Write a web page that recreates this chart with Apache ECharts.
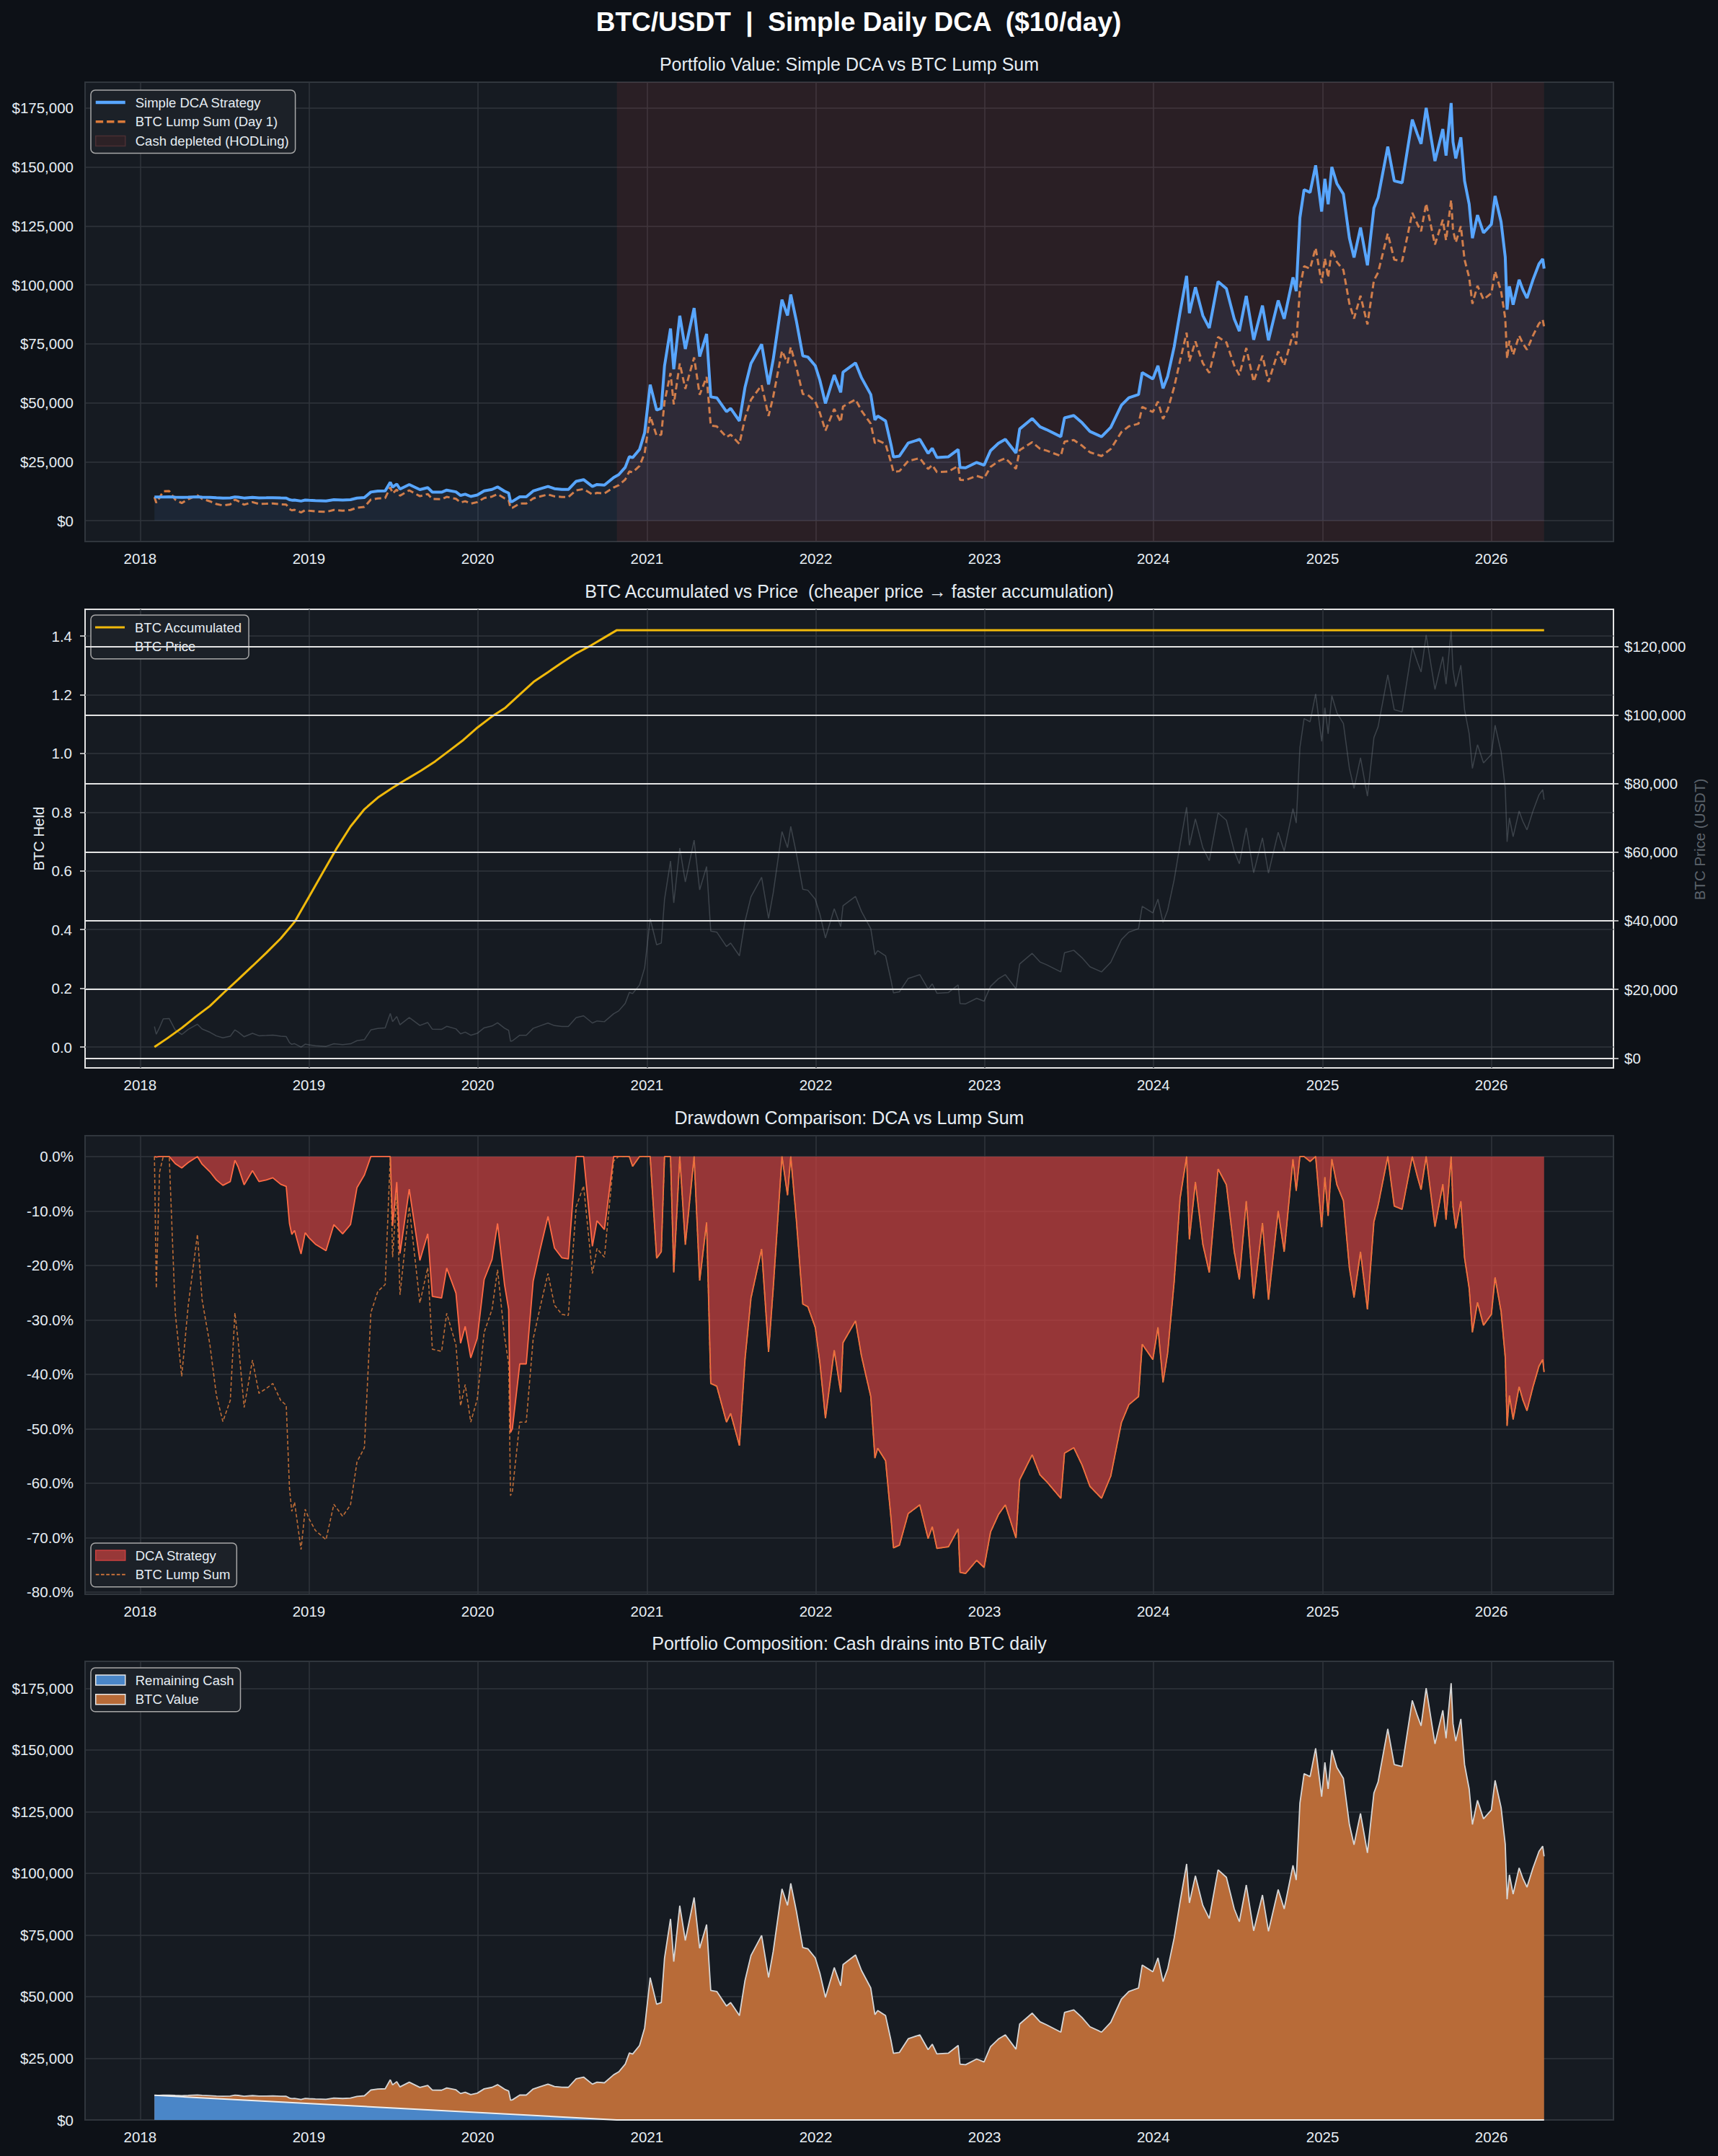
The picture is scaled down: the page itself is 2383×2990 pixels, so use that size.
<!DOCTYPE html>
<html>
<head>
<meta charset="utf-8">
<script src="https://cdn.jsdelivr.net/npm/echarts@6/dist/echarts.min.js"></script>
<style>
html,body{margin:0;padding:0;background:#0d1117;}
#chart{width:2383px;height:2990px;}
</style>
</head>
<body>
<div id="chart"></div>
<script>
// ---------------- DATA ----------------
const dates = [
'2018-02-01','2018-02-05','2018-02-12','2018-02-20','2018-03-05','2018-03-18','2018-04-01','2018-04-15','2018-05-05','2018-05-15',
'2018-06-01','2018-06-15','2018-06-29','2018-07-15','2018-07-25','2018-08-01','2018-08-14','2018-09-01','2018-09-15','2018-10-01',
'2018-10-15','2018-11-01','2018-11-13','2018-11-20','2018-11-25','2018-12-01','2018-12-15','2018-12-24','2019-01-01','2019-01-15',
'2019-02-07','2019-02-24','2019-03-15','2019-04-01','2019-04-15','2019-05-01','2019-05-15','2019-05-30','2019-06-15','2019-06-26',
'2019-07-01','2019-07-10','2019-07-17','2019-08-06','2019-08-29','2019-09-15','2019-09-25','2019-10-15','2019-10-26','2019-11-15',
'2019-11-25','2019-12-05','2019-12-17','2019-12-31','2020-01-15','2020-02-01','2020-02-13','2020-02-28','2020-03-08','2020-03-12',
'2020-03-16','2020-04-01','2020-04-15','2020-04-30','2020-05-15','2020-06-01','2020-06-15','2020-07-01','2020-07-15','2020-08-01',
'2020-08-17','2020-09-05','2020-09-15','2020-10-01','2020-10-21','2020-11-01','2020-11-15','2020-11-24','2020-12-01','2020-12-16',
'2020-12-27','2021-01-08','2021-01-22','2021-02-01','2021-02-08','2021-02-21','2021-02-28','2021-03-13','2021-03-25','2021-04-13',
'2021-04-25','2021-05-10','2021-05-19','2021-06-01','2021-06-22','2021-07-01','2021-07-20','2021-08-01','2021-08-14','2021-09-06',
'2021-09-21','2021-10-01','2021-10-20','2021-11-01','2021-11-08','2021-11-20','2021-12-04','2021-12-15','2021-12-31','2022-01-10',
'2022-01-22','2022-02-10','2022-02-24','2022-03-01','2022-03-28','2022-04-10','2022-04-30','2022-05-09','2022-05-15','2022-06-01',
'2022-06-13','2022-06-18','2022-07-01','2022-07-20','2022-08-14','2022-09-01','2022-09-10','2022-09-20','2022-10-15','2022-11-05',
'2022-11-09','2022-11-21','2022-12-15','2022-12-31','2023-01-14','2023-01-31','2023-02-15','2023-03-10','2023-03-18','2023-04-14',
'2023-05-01','2023-05-15','2023-06-15','2023-06-23','2023-07-13','2023-07-31','2023-08-17','2023-09-11','2023-10-01','2023-10-24',
'2023-11-09','2023-11-30','2023-12-08','2023-12-31','2024-01-11','2024-01-22','2024-02-01','2024-02-15','2024-02-28','2024-03-13',
'2024-03-19','2024-04-01','2024-04-17','2024-05-01','2024-05-20','2024-06-07','2024-06-24','2024-07-05','2024-07-20','2024-08-05',
'2024-08-24','2024-09-06','2024-09-27','2024-10-10','2024-10-29','2024-11-05','2024-11-13','2024-11-22','2024-12-05','2024-12-17',
'2024-12-30','2025-01-06','2025-01-13','2025-01-21','2025-02-01','2025-02-15','2025-02-28','2025-03-10','2025-03-24','2025-04-08',
'2025-04-22','2025-05-01','2025-05-22','2025-06-05','2025-06-22','2025-07-14','2025-07-25','2025-08-02','2025-08-13','2025-09-01',
'2025-09-18','2025-09-25','2025-10-06','2025-10-10','2025-10-16','2025-10-27','2025-11-04','2025-11-14','2025-11-21','2025-12-02',
'2025-12-15','2026-01-01','2026-01-09','2026-01-22','2026-01-31','2026-02-04','2026-02-09','2026-02-17','2026-03-02','2026-03-10',
'2026-03-19','2026-04-01','2026-04-14','2026-04-22','2026-04-25'
];

const btcPrice = [
9170,6950,8900,11400,11500,8200,6850,8350,9850,8480,
7520,6450,5900,6350,8200,7600,6200,7200,6500,6600,
6700,6350,6250,4500,4000,4200,3200,4050,3850,3600,
3400,4150,3900,4140,5050,5350,8200,8650,8800,13000,
10600,12100,9700,11800,9500,10350,8400,8350,9250,8500,
7050,7550,6650,7200,8800,9350,10300,8700,8050,4900,
5000,6650,6650,8650,9400,10200,9450,9230,9200,11800,
12300,10200,10800,10600,12900,13750,15950,19150,18800,21300,
26250,40600,33000,33500,46200,57400,45200,61200,51300,63500,
49000,55800,37000,36700,32500,33500,29800,39800,47000,52700,
40700,48100,66000,61300,67500,59700,49200,48900,46300,41900,
35000,43500,38300,44400,47100,42700,37700,30100,31300,29800,
22500,19000,19300,23200,24300,20100,21600,18900,19100,21300,
15900,15800,17400,16550,20900,23100,24300,20200,27400,30500,
28000,27200,25100,30700,31400,29200,26600,25100,27900,34500,
36700,37700,44200,42300,46300,39500,43100,51900,62400,73100,
62000,69700,61300,57500,71400,69300,60300,56600,67100,54000,
64200,53900,65800,60300,72700,68500,90500,98900,98000,106100,
92300,102100,94500,105600,100600,97500,84400,78600,87500,76300,
93400,96500,111700,101500,100900,119800,115400,112500,123300,107400,
117000,109000,124700,113200,108200,114500,101500,94500,84400,91300,
86000,88500,97000,89200,78700,63000,70000,64500,72000,69000,
66500,72000,76700,78200,75300
];

const dcaValue = [
10000,9995,10001,10038,10071,9944,9855,9963,10134,9988,
9853,9698,9594,9668,10064,9938,9604,9867,9671,9699,
9738,9620,9581,8889,8686,8759,8315,8720,8627,8500,
8378,8863,8695,8869,9554,9794,12134,12523,12640,16301,
14210,15541,13401,15322,13181,13985,12104,12057,12958,12210,
10705,11223,10262,10854,12612,13228,14301,12470,11718,8038,
8150,10087,10086,12562,13513,14515,13559,13272,13231,16704,
17387,14514,15334,15057,18311,19500,22600,27200,26700,30200,
37300,57700,46900,47600,65600,81500,64200,86900,72800,90200,
69600,79200,52500,52100,46200,47600,42300,56500,66700,74800,
57800,68300,93700,87000,95900,84800,69900,69400,65700,59500,
49700,61800,54400,63000,66900,60600,53500,42700,44400,42300,
32000,27000,27400,32900,34500,28500,30700,26800,27100,30200,
22600,22400,24700,23500,29700,32800,34500,28700,38900,43300,
39800,38600,35600,43600,44600,41500,37800,35600,39600,49000,
52100,53500,62800,60100,65700,56100,61200,73700,88600,103800,
88000,99000,87000,81700,101400,98400,85600,80400,95300,76700,
91200,76500,93400,85600,103200,97300,128500,140400,139200,150700,
131100,145000,134200,150000,142900,138500,119800,111600,124300,108300,
132600,137000,158600,144100,143300,170100,163900,159800,175100,152500,
166100,154800,177100,160700,153600,162600,144100,134200,119800,129600,
122100,125700,137700,126700,111800,89500,99400,91600,102200,98000,
94400,102200,108900,111000,106900
];

const lumpValue = [
10000,7579,9705,12432,12541,8942,7470,9106,10741,9247,
8201,7034,6434,6925,8942,8288,6761,7852,7088,7197,
7306,6925,6816,4907,4362,4580,3490,4417,4198,3926,
3708,4526,4253,4515,5507,5834,8942,9433,9596,14177,
11559,13195,10578,12868,10360,11287,9160,9106,10087,9269,
7688,8233,7252,7852,9596,10196,11232,9487,8779,5343,
5453,7252,7252,9433,10251,11123,10305,10065,10033,12868,
13413,11123,11777,11559,14067,15000,17400,20900,20500,23200,
28600,44300,36000,36500,50400,62600,49300,66700,55900,69200,
53400,60900,40300,40000,35400,36500,32500,43400,51300,57500,
44400,52500,72000,66800,73600,65100,53700,53300,50500,45700,
38200,47400,41800,48400,51400,46600,41100,32800,34100,32500,
24500,20700,21000,25300,26500,21900,23600,20600,20800,23200,
17300,17200,19000,18000,22800,25200,26500,22000,29900,33300,
30500,29700,27400,33500,34200,31800,29000,27400,30400,37600,
40000,41100,48200,46100,50500,43100,47000,56600,68000,79700,
67600,76000,66800,62700,77900,75600,65800,61700,73200,58900,
70000,58800,71800,65800,79300,74700,98700,107900,106900,115700,
100700,111300,103100,115200,109700,106300,92000,85700,95400,83200,
101900,105200,121800,110700,110000,130600,125800,122700,134500,117100,
127600,118900,136000,123400,118000,124900,110700,103100,92000,99600,
93800,96500,105800,97300,85800,68700,76300,70300,78500,75200,
72500,78500,83600,85300,82100
];

const dcaDrawdown = [
0,-0.1,0,0,0,-1.3,-2.1,-1.1,0,-1.4,
-2.8,-4.3,-5.3,-4.6,-0.7,-1.9,-5.2,-2.6,-4.6,-4.3,
-3.9,-5.1,-5.5,-12.3,-14.3,-13.6,-17.9,-14.0,-14.9,-16.1,
-17.3,-12.5,-14.2,-12.5,-5.7,-3.4,0,0,0,0,
-12.8,-4.7,-17.8,-6.0,-19.1,-14.2,-25.7,-26.0,-20.5,-25.1,
-34.3,-31.2,-37.0,-33.4,-22.6,-18.9,-12.3,-23.5,-28.1,-50.7,
-50.0,-38.1,-38.1,-22.9,-17.1,-11.0,-16.8,-18.6,-18.8,0,
0,-16.5,-11.8,-13.4,0,0,0,0,-1.8,0,
0,0,-18.7,-17.5,0,0,-21.3,0,-16.2,0,
-22.8,-12.1,-41.7,-42.2,-48.8,-47.2,-53.1,-37.3,-26.0,-17.0,
-35.9,-24.3,0,-7.1,0,-11.6,-27.1,-27.6,-31.4,-37.9,
-48.1,-35.6,-43.3,-34.2,-30.2,-36.7,-44.1,-55.4,-53.6,-55.9,
-66.7,-71.9,-71.4,-65.6,-64.0,-70.2,-68.0,-72.0,-71.7,-68.4,
-76.4,-76.6,-74.2,-75.5,-69.0,-65.8,-64.0,-70.1,-59.4,-54.8,
-58.5,-59.7,-62.8,-54.5,-53.5,-56.7,-60.6,-62.8,-58.7,-48.9,
-45.6,-44.1,-34.5,-37.3,-31.4,-41.5,-36.1,-23.1,-7.6,0,
-15.2,-4.7,-16.1,-21.3,-2.3,-5.2,-17.5,-22.6,-8.2,-26.1,
-12.2,-26.3,-10.0,-17.5,-0.5,-6.3,0,0,-0.9,0,
-13.0,-3.8,-10.9,-0.5,-5.2,-8.1,-20.5,-25.9,-17.5,-28.1,
-12.0,-9.0,0,-9.1,-9.7,0,-3.7,-6.1,0,-12.9,
-5.1,-11.6,0,-9.2,-13.2,-8.2,-18.6,-24.2,-32.3,-26.8,
-31.0,-29.0,-22.2,-28.5,-36.9,-49.5,-43.9,-48.3,-42.3,-44.7,
-46.7,-42.3,-38.5,-37.3,-39.6
];

const lumpDrawdown = [
0,-24.2,-2.9,0,0,-28.7,-40.4,-27.4,-14.3,-26.3,
-34.6,-43.9,-48.7,-44.8,-28.7,-33.9,-46.1,-37.4,-43.5,-42.6,
-41.7,-44.8,-45.7,-60.9,-65.2,-63.5,-72.2,-64.8,-66.5,-68.7,
-70.4,-63.9,-66.1,-64.0,-56.1,-53.5,-28.7,-24.8,-23.5,0,
-18.5,-6.9,-25.4,-9.2,-26.9,-20.4,-35.4,-35.8,-28.8,-34.6,
-45.8,-41.9,-48.8,-44.6,-32.3,-28.1,-20.8,-33.1,-38.1,-62.3,
-61.5,-48.8,-48.8,-33.5,-27.7,-21.5,-27.3,-29.0,-29.2,-9.2,
-5.4,-21.5,-16.9,-18.5,-0.8,0,0,0,-1.8,0,
0,0,-18.7,-17.5,0,0,-21.3,0,-16.2,0,
-22.8,-12.1,-41.7,-42.2,-48.8,-47.2,-53.1,-37.3,-26.0,-17.0,
-35.9,-24.3,0,-7.1,0,-11.6,-27.1,-27.6,-31.4,-37.9,
-48.1,-35.6,-43.3,-34.2,-30.2,-36.7,-44.1,-55.4,-53.6,-55.9,
-66.7,-71.9,-71.4,-65.6,-64.0,-70.2,-68.0,-72.0,-71.7,-68.4,
-76.4,-76.6,-74.2,-75.5,-69.0,-65.8,-64.0,-70.1,-59.4,-54.8,
-58.5,-59.7,-62.8,-54.5,-53.5,-56.7,-60.6,-62.8,-58.7,-48.9,
-45.6,-44.1,-34.5,-37.3,-31.4,-41.5,-36.1,-23.1,-7.6,0,
-15.2,-4.7,-16.1,-21.3,-2.3,-5.2,-17.5,-22.6,-8.2,-26.1,
-12.2,-26.3,-10.0,-17.5,-0.5,-6.3,0,0,-0.9,0,
-13.0,-3.8,-10.9,-0.5,-5.2,-8.1,-20.5,-25.9,-17.5,-28.1,
-12.0,-9.0,0,-9.1,-9.7,0,-3.7,-6.1,0,-12.9,
-5.1,-11.6,0,-9.2,-13.2,-8.2,-18.6,-24.2,-32.3,-26.8,
-31.0,-29.0,-22.2,-28.5,-36.9,-49.5,-43.9,-48.3,-42.3,-44.7,
-46.7,-42.3,-38.5,-37.3,-39.6
];

const heldDates = [
'2018-02-01','2018-03-01','2018-04-01','2018-05-01','2018-06-01','2018-07-01','2018-08-01','2018-09-01','2018-10-01','2018-11-01',
'2018-12-01','2019-01-01','2019-02-01','2019-03-01','2019-04-01','2019-05-01','2019-06-01','2019-07-01','2019-08-01','2019-09-01',
'2019-10-01','2019-11-01','2019-12-01','2020-01-01','2020-02-01','2020-03-01','2020-04-01','2020-05-01','2020-06-01','2020-07-01',
'2020-08-01','2020-09-01','2020-10-01','2020-10-28','2026-04-25'
];
const btcHeld = [
0,0.030,0.065,0.103,0.140,0.185,0.230,0.276,0.321,0.370,
0.426,0.511,0.597,0.674,0.751,0.810,0.852,0.883,0.913,0.942,
0.973,1.010,1.046,1.089,1.126,1.156,1.201,1.244,1.277,1.309,
1.341,1.367,1.395,1.420,1.420
];

const cashDates = ['2018-02-01','2020-10-28','2026-04-25'];
const cashRemaining = [10000, 0, 0];

const hodlStart = '2020-10-28';
const hodlEnd = '2026-04-25';

const xYears = [2018,2019,2020,2021,2022,2023,2024,2025,2026];
const usdTicks = [0,25000,50000,75000,100000,125000,150000,175000];
const heldTicks = [0,0.2,0.4,0.6,0.8,1.0,1.2,1.4];
const priceTicks = [0,20000,40000,60000,80000,100000,120000];
const ddTicks = [0,-10,-20,-30,-40,-50,-60,-70,-80];

// ---------------- STYLE ----------------
const FONT = "'Liberation Sans', Arial, Helvetica, sans-serif";
const TXT = '#e6edf3';
const GRIDC = '#30363d';
const BLUE = '#58a6ff';
const ORANGE = '#db7a3a';
const DDFILL = 'rgba(211,68,65,0.68)';
const LEFT = 118, WIDTH = 2120;
const GR = [{top:114,h:637},{top:845,h:636},{top:1575,h:636},{top:2304,h:636}];
const X_MIN = Date.UTC(2017,8,4), X_MAX = Date.UTC(2026,8,22);

// legend icon shapes
const ICON_SOLID = 'path://M0,0H41V4.5H0Z';
const ICON_SOLID_THIN = 'path://M0,0H41V3H0Z';
const ICON_DASH = 'path://M0,0h9.3v3h-9.3z M13.7,0h9.3v3h-9.3z M27.4,0h9.3v3h-9.3z';
const ICON_DASH_FINE = 'path://M0,0h4.5v1.6h-4.5z M7,0h4.5v1.6h-4.5z M14,0h4.5v1.6h-4.5z M21,0h4.5v1.6h-4.5z M28,0h4.5v1.6h-4.5z M35,0h4.5v1.6h-4.5z';

const pairs = (ds, vs) => ds.map((d,i) => [Date.parse(d), vs[i]]);
const yearVals = xYears.map(y => Date.UTC(y,0,1));
const usd = v => '$' + v.toLocaleString('en-US');

function xAxis(i) {
  return {
    type:'value', gridIndex:i, min:X_MIN, max:X_MAX,
    axisLine:{show:false},
    axisTick:{show:false, customValues:yearVals},
    axisLabel:{customValues:yearVals, formatter:v => String(new Date(v).getUTCFullYear()),
      color:TXT, fontSize:20.5, fontFamily:FONT, margin:13},
    splitLine:{show:true, lineStyle:{color:GRIDC, width:1.5}}
  };
}
function yAxis(i, o) {
  return Object.assign({
    type:'value', gridIndex:i,
    axisLine:{show:false},
    axisTick:{show:false, customValues:o.ticks},
    axisLabel:{customValues:o.ticks, formatter:o.fmt, color:TXT, fontSize:20.5, fontFamily:FONT, margin:16},
    splitLine:{show:true, lineStyle:{color:GRIDC, width:1.5}}
  }, {min:o.min, max:o.max});
}

const legendBase = {
  orient:'vertical', itemWidth:41, itemHeight:14, itemGap:6.7,
  padding:[7,9,7,6], backgroundColor:'#1c2128', borderColor:'#a8a8a8', borderWidth:1.5, borderRadius:6,
  textStyle:{color:TXT, fontSize:18.5, fontFamily:FONT, lineHeight:20, padding:[0,0,0,9]},
  selectedMode:false
};

const chart = echarts.init(document.getElementById('chart'), null, {renderer:'svg'});

const ax1 = yAxis(1, {ticks:heldTicks, fmt:v => v.toFixed(1), min:-0.071, max:1.491});
ax1.position = 'left';
ax1.axisTick = {show:true, customValues:heldTicks, length:7, lineStyle:{color:'#e6e6e6', width:1.5}};
ax1.axisLabel.margin = 18;

const ax2 = yAxis(1, {ticks:priceTicks, fmt:usd, min:-2875, max:130775});
ax2.position = 'right';
ax2.z = 6;
ax2.axisTick = {show:true, customValues:priceTicks, length:7, lineStyle:{color:'#e6e6e6', width:1.5}};
ax2.axisLabel.margin = 15;
ax2.splitLine = {show:true, lineStyle:{color:'#e4e4e4', width:2}};

const option = {
  backgroundColor:'#0d1117',
  animation:false,
  grid: GR.map((g,i) => ({
    left:LEFT, top:g.top, width:WIDTH, height:g.h, show:true,
    backgroundColor:'#161b22',
    borderColor: i === 1 ? '#e4e4e4' : GRIDC,
    borderWidth: 2
  })),
  xAxis:[xAxis(0), xAxis(1), xAxis(2), xAxis(3)],
  yAxis:[
    yAxis(0, {ticks:usdTicks, fmt:usd, min:-8855, max:185955}),
    ax1,
    ax2,
    yAxis(2, {ticks:ddTicks, fmt:v => v.toFixed(1) + '%', min:-80.43, max:3.83}),
    yAxis(3, {ticks:usdTicks, fmt:usd, min:0, max:185955})
  ],
  legend:[
    Object.assign({}, legendBase, {left:126, top:125, data:[
      {name:'Simple DCA Strategy', icon:ICON_SOLID, itemStyle:{color:BLUE, borderWidth:0}},
      {name:'BTC Lump Sum (Day 1)', icon:ICON_DASH, itemStyle:{color:ORANGE, borderWidth:0}},
      {name:'Cash depleted (HODLing)', icon:'rect', itemStyle:{color:'#2d2126', borderColor:'#4a2f33', borderWidth:1.5}}
    ]}),
    Object.assign({}, legendBase, {left:126, top:853, data:[
      {name:'BTC Accumulated', icon:ICON_SOLID_THIN, itemStyle:{color:'#f0b90b', borderWidth:0}},
      {name:'BTC Price', icon:'none'}
    ]}),
    Object.assign({}, legendBase, {left:126, top:2140, data:[
      {name:'DCA Strategy', icon:'rect', itemStyle:{color:DDFILL, borderColor:'#c8403f', borderWidth:1.5}},
      {name:'BTC Lump Sum', icon:ICON_DASH_FINE, itemStyle:{color:ORANGE, borderWidth:0}}
    ]}),
    Object.assign({}, legendBase, {left:126, top:2313, data:[
      {name:'Remaining Cash', icon:'rect', itemStyle:{color:'#4a86c8', borderColor:'#e6e6e6', borderWidth:1.5}},
      {name:'BTC Value', icon:'rect', itemStyle:{color:'#b86b38', borderColor:'#e6e6e6', borderWidth:1.5}}
    ]})
  ],
  series:[
    // Panel 1
    {name:'Cash depleted (HODLing)', type:'line', xAxisIndex:0, yAxisIndex:0, data:[], z:1,
      itemStyle:{color:'#2d2126'},
      markArea:{silent:true, itemStyle:{color:'rgba(248,81,73,0.09)'},
        data:[[{xAxis:Date.parse(hodlStart)},{xAxis:Date.parse(hodlEnd)}]]}},
    {name:'BTC Lump Sum (Day 1)', type:'line', xAxisIndex:0, yAxisIndex:0, data:pairs(dates,lumpValue),
      symbol:'none', z:2, itemStyle:{color:ORANGE}, lineStyle:{color:ORANGE, width:3, type:[9,5]}},
    {name:'Simple DCA Strategy', type:'line', xAxisIndex:0, yAxisIndex:0, data:pairs(dates,dcaValue),
      symbol:'none', z:3, itemStyle:{color:BLUE}, lineStyle:{color:BLUE, width:4},
      areaStyle:{color:'rgba(88,166,255,0.085)', opacity:1}},
    // Panel 2
    {name:'BTC Price', type:'line', xAxisIndex:1, yAxisIndex:2, data:pairs(dates,btcPrice),
      symbol:'none', z:2, itemStyle:{color:'rgba(139,148,158,0.33)'}, lineStyle:{color:'rgba(139,148,158,0.33)', width:1.5}},
    {name:'BTC Accumulated', type:'line', xAxisIndex:1, yAxisIndex:1, data:pairs(heldDates,btcHeld),
      symbol:'none', z:3, itemStyle:{color:'#f0b90b'}, lineStyle:{color:'#f0b90b', width:3}},
    // Panel 3
    {name:'DCA Strategy', type:'line', xAxisIndex:2, yAxisIndex:3, data:pairs(dates,dcaDrawdown),
      symbol:'none', z:2, itemStyle:{color:'#ff6b45'}, lineStyle:{color:'#ff6b45', width:1.8},
      areaStyle:{color:DDFILL, opacity:1}},
    {name:'BTC Lump Sum', type:'line', xAxisIndex:2, yAxisIndex:3, data:pairs(dates,lumpDrawdown),
      symbol:'none', z:3, itemStyle:{color:ORANGE}, lineStyle:{color:ORANGE, width:1.6, type:[5,3], opacity:0.85}},
    // Panel 4
    {name:'BTC Value', type:'line', xAxisIndex:3, yAxisIndex:4, data:pairs(dates,dcaValue),
      symbol:'none', z:2, itemStyle:{color:'#b86b38'}, lineStyle:{color:'#d6d6d6', width:1.8},
      areaStyle:{color:'#b86b38', opacity:1}},
    {name:'Remaining Cash', type:'line', xAxisIndex:3, yAxisIndex:4, data:pairs(cashDates,cashRemaining),
      symbol:'none', z:3, itemStyle:{color:'#4a86c8'}, lineStyle:{color:'#eeeeee', width:2},
      areaStyle:{color:'#4a86c8', opacity:1}}
  ],
  graphic:[
    {type:'text', x:1191, y:30, style:{text:'BTC/USDT  |  Simple Daily DCA  ($10/day)', fill:'#ffffff',
      font:"bold 37px " + FONT, textAlign:'center', textVerticalAlign:'middle'}},
    {type:'text', x:1178, y:89, style:{text:'Portfolio Value: Simple DCA vs BTC Lump Sum', fill:TXT,
      font:"25px " + FONT, textAlign:'center', textVerticalAlign:'middle'}},
    {type:'text', x:1178, y:820, style:{text:'BTC Accumulated vs Price  (cheaper price \u2192 faster accumulation)', fill:TXT,
      font:"25px " + FONT, textAlign:'center', textVerticalAlign:'middle'}},
    {type:'text', x:1178, y:1550, style:{text:'Drawdown Comparison: DCA vs Lump Sum', fill:TXT,
      font:"25px " + FONT, textAlign:'center', textVerticalAlign:'middle'}},
    {type:'text', x:1178, y:2279, style:{text:'Portfolio Composition: Cash drains into BTC daily', fill:TXT,
      font:"25px " + FONT, textAlign:'center', textVerticalAlign:'middle'}},
    {type:'text', x:53, y:1163, rotation:Math.PI/2, style:{text:'BTC Held', fill:TXT,
      font:"20.5px " + FONT, textAlign:'center', textVerticalAlign:'middle'}},
    {type:'text', x:2357, y:1164, rotation:Math.PI/2, style:{text:'BTC Price (USDT)', fill:'#5c636b',
      font:"20.5px " + FONT, textAlign:'center', textVerticalAlign:'middle'}}
  ]
};
chart.setOption(option);
</script>
</body>
</html>
